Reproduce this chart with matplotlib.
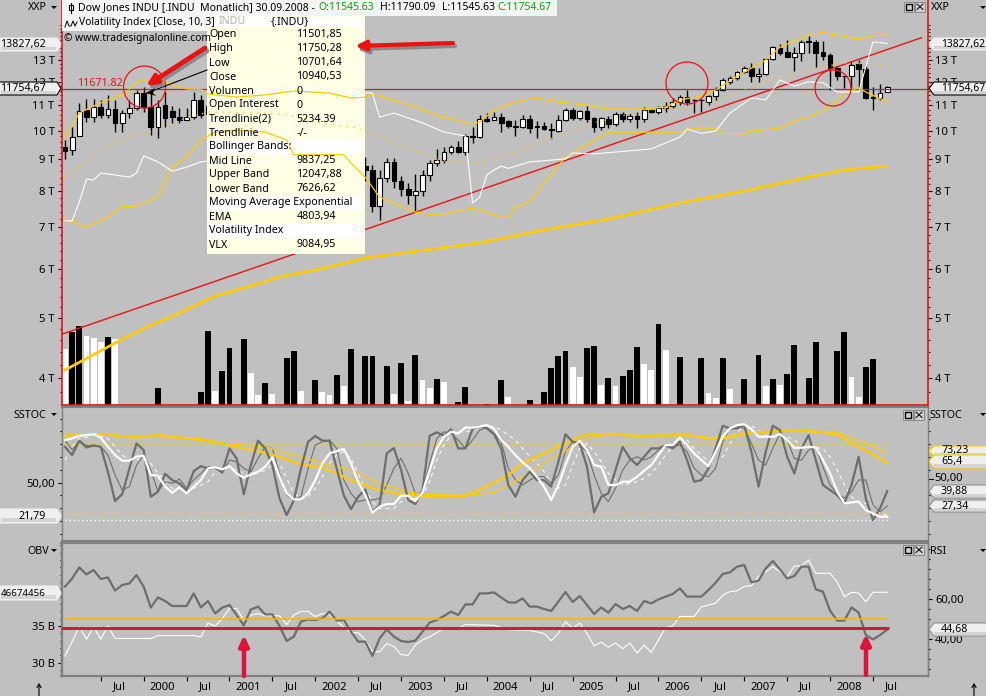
import matplotlib
matplotlib.use('Agg')
import numpy as np
import matplotlib.pyplot as plt
from matplotlib import patches
from matplotlib.ticker import FixedLocator, NullFormatter, FixedFormatter

plt.rcParams['font.family'] = ['Noto Sans', 'DejaVu Sans']

################ DATA ####################

# monthly candles, index 0 = Feb 1999 (20-42 sit behind the tooltip, so rough)
opens = [9400, 9313, 9810, 10800, 10520, 10920, 10600, 10840, 10300, 10680, 10880, 11501.85, 10940, 10128, 11000, 10760,
         10520, 10400, 10520, 11209,
         10650, 10971, 10414, 10787, 10887, 10495, 9879, 10735, 10912, 10502, 10523, 9950, 8847, 9075, 9852, 10021,
         9920, 10106, 10403, 9946, 9925, 9243, 8780,
         8648, 7570, 8395, 8900, 8300, 8060, 7880, 7990, 8480, 8860, 8980, 9250, 9420, 9250, 9810, 9780,
         10440, 10400, 10520, 10370, 10170, 10140, 10440, 10170, 10170, 10060, 9990, 10408, 10800, 10480, 10760,
         10480, 10140, 10440, 10250, 10640, 10440, 10560, 10440, 10800, 10720, 10880, 10960, 11130, 11340, 11220,
         11190, 11130, 11380, 11632, 12000, 12150, 12430, 12620, 12240, 12340, 13050, 13580, 13390, 13150, 13330,
         13950, 13900, 13390, 13240, 12620, 12240, 12240, 12800, 12580, 11340, 11300, 11545.63]
highs = [9665, 10140, 11080, 11250, 11250, 11209, 11420, 11209, 10800, 11209, 11632, 11750.28, 11500, 11209, 11550, 10960,
         10880, 10880, 11550, 11420,
         11050, 11000, 10900, 11000, 10950, 10600, 10850, 11350, 11000, 10700, 10600, 10000, 9400, 9900, 10200, 10250,
         10200, 10670, 10400, 10200, 9950, 9300, 9080,
         8810, 8648, 9030, 9030, 8460, 8240, 8520, 8650, 8980, 9350, 9420, 9490, 9630, 9880, 10140, 10600,
         10680, 10720, 10680, 10400, 10400, 10600, 10600, 10370, 10330, 10300, 10600, 10880, 10880, 10800, 10960,
         10520, 10520, 10560, 10720, 10720, 10680, 10720, 10920, 10880, 10960, 11130, 11290, 11420, 11632, 11250,
         11250, 11420, 11750, 12150, 12240, 12500, 12700, 12860, 12620, 13080, 13680, 13800, 14000, 13630, 14000,
         14200, 14000, 13950, 13340, 12700, 12270, 12950, 13000, 12700, 11750, 11900, 11790.09]
lows = [9010, 9150, 9810, 10330, 10330, 10480, 10480, 9950, 9950, 10480, 10800, 10701.64, 9850, 9740, 10130, 10300,
        10300, 10400, 10440, 10480,
        9975, 10350, 10300, 10430, 10350, 9390, 9700, 10700, 10400, 10200, 9800, 8235, 8800, 9050, 9750, 9600,
        9600, 10050, 9800, 9800, 9100, 7530, 8300,
        7400, 7185, 8270, 8090, 7850, 7620, 7400, 7850, 8300, 8770, 8870, 9180, 9210, 9150, 9560, 9740,
        10330, 10410, 9950, 10100, 9810, 10100, 9910, 9740, 10030, 9700, 9950, 10370, 10410, 10410, 10330,
        9950, 10030, 10100, 10170, 10330, 10330, 10100, 10330, 10680, 10640, 10720, 10880, 11000, 11000, 10680,
        10720, 11000, 11209, 11600, 11880, 12071, 12400, 12000, 11990, 12300, 13000, 13240, 13180, 12480, 12950,
        13340, 12660, 13000, 11632, 12071, 11720, 11720, 11680, 11250, 10800, 11209, 11545]
closes = [9280, 9790, 10760, 10520, 10920, 10600, 10840, 10300, 10680, 10880, 11500, 10940.53, 10128, 10920, 10480, 10520,
          10408, 10520, 11209, 10600,
          10971, 10414, 10787, 10887, 10495, 9879, 10735, 10912, 10502, 10523, 9950, 8847, 9075, 9852, 10021, 9920,
          10106, 10403, 9946, 9925, 9243, 8737, 8650,
          7570, 8395, 8900, 8300, 8060, 7880, 7990, 8480, 8860, 8970, 9250, 9420, 9250, 9810, 9780, 10450,
          10370, 10520, 10300, 10180, 10140, 10440, 10100, 10140, 10060, 10030, 10408, 10800, 10480, 10760, 10440,
          10140, 10480, 10250, 10640, 10440, 10560, 10440, 10800, 10720, 10880, 10960, 11130, 11340, 11130, 11190,
          11220, 11380, 11632, 12071, 12150, 12430, 12620, 12240, 12340, 13050, 13630, 13330, 13150, 13330, 13900,
          13900, 13340, 13190, 12620, 12240, 12260, 12770, 12580, 11300, 11300, 11500, 11754.67]

# volume, in its own unscaled units
vol_x = [0, 1, 2, 3, 4, 5, 6, 7, 13, 19, 20, 21, 22, 23, 25, 26, 27, 28, 29, 31, 32, 33, 35, 36, 37, 38, 39, 40, 42, 43,
         45, 46, 47, 48, 49, 50, 51, 52, 53, 55, 56, 59, 61, 62, 65, 67, 68, 69, 70, 71, 72, 73, 74, 75, 76, 77, 78, 79,
         80, 81, 82, 83, 84, 86, 89, 90, 91, 92, 93, 94, 95, 96, 97, 98, 99, 100, 101, 102, 104, 105, 108, 109, 110, 111,
         112, 113]
vol_vals = [56, 73, 79, 69, 67, 63, 68, 66, 17, 13, 74, 14, 34, 57, 66, 32, 10, 22, 11, 47, 54, 14, 25, 13, 10, 30, 19, 56,
            49, 49, 39, 11, 42, 4, 50, 25, 17, 26, 23, 3, 18, 1, 25, 8, 5, 13, 37, 49, 54, 38, 28, 57, 59, 20, 27, 19, 29,
            35, 58, 41, 35, 81, 55, 48, 47, 12, 7, 47, 16, 1, 26, 1, 50, 19, 26, 20, 31, 60, 27, 63, 54, 73, 28, 8, 38, 46]
vol_white = [0, 3, 4, 5, 7, 21, 26, 27, 29, 33, 36, 37, 39, 46, 48, 50, 51, 53, 62, 71, 72, 75, 77, 81, 82, 84, 90, 91, 93,
             94, 96, 98, 100, 110, 111]

# price overlays, each with its own months
upper_x = [0, 2, 4, 6, 8, 9, 10, 11, 13, 15, 17, 19, 20, 24, 28, 32, 37, 40, 42, 43, 45, 49, 52, 57, 58, 60, 63, 66, 69,
           73, 76, 81, 84, 86, 89, 91, 94, 98, 100, 104, 106, 108, 111, 113, 115]
upper_band = [9740, 10680, 10960, 11209, 11420, 11675, 11950, 12071, 12071, 11850, 11675, 11660, 11460, 11330, 11420,
              11590, 11500, 11290, 11330, 11460, 11290, 10920, 10600, 10250, 10330, 10800, 11130, 11290, 11130, 11000,
              10840, 10840, 10920, 11209, 11380, 11632, 12240, 13000, 13630, 14260, 14400, 14260, 14050, 14220, 14260]
lower_x = [0, 3, 6, 8, 10, 13, 15, 17, 19, 21, 24, 28, 31, 32, 39, 40, 42, 44, 49, 52, 57, 58, 61, 62, 63, 65, 67, 70, 73,
           76, 86, 88, 91, 92, 95, 96, 100, 102, 104, 107, 109, 111, 112, 115]
lower_band = [7210, 7000, 7260, 7540, 7570, 7820, 8740, 9070, 9665, 9950, 10030, 9950, 9665, 9150, 9150, 8870, 8420, 7820,
              7400, 7310, 7510, 7457, 7260, 7260, 7540, 7680, 8240, 9070, 9490, 9950, 9950, 10100, 10100, 9910, 9880,
              9990, 10100, 10370, 10520, 10920, 11500, 11720, 11545, 11130]
mid_x = [0, 5, 9, 13, 16, 20, 28, 31, 35, 41, 42, 48, 52, 58, 63, 70, 74, 81, 88, 91, 98, 105, 109, 115]
mid_band = [8420, 9313, 9770, 10030, 10408, 10720, 10680, 10600, 10330, 10100, 9950, 9420, 8974, 8870, 9240, 9910, 10300,
            10800, 10920, 11209, 11990, 12620, 12860, 12760]
vlx_x = [0, 1, 2, 3, 4, 5, 7, 9, 10, 11, 13, 15, 17, 19, 21, 31, 32, 34, 43, 44, 46, 50, 53, 56, 57, 58, 59, 60, 61, 62,
         65, 70, 71, 74, 82, 86, 87, 89, 91, 93, 96, 98, 100, 102, 104, 106, 108, 111, 113, 115]
vlx = [7160, 7160, 7680, 8360, 8333, 8550, 8490, 8420, 8550, 9110, 8910, 8610, 8740, 8910, 8974, 8870, 11850, 11632,
       11500, 10520, 10680, 10300, 9950, 9810, 7650, 7820, 8490, 8648, 8770, 8700, 8910, 9010, 9210, 9180, 9350, 9770,
       10060, 9910, 9990, 10680, 11290, 11209, 12071, 11800, 11990, 11950, 11545, 11545, 13900, 13827.62]
ema_x = [0, 7, 11, 16, 21, 26, 30, 35, 41, 42, 58, 67, 76, 86, 95, 104, 109, 115]
ema = [4120, 4553, 4803.94, 5090, 5420, 5625, 5818, 5970, 6195, 6240, 6600, 6924, 7210, 7650, 8000, 8420, 8648, 8770]
trend_x = [-0.56, 119.8]
trend = [4700, 14120]
resistance = 11671.82

# slow stochastic panel
sstoc_fast = [78, 71.6, 82.8, 77.6, 79, 78, 58.6, 35.7, 41, 61, 80.7, 75.5, 39, 43, 57, 52, 49.5, 44, 59, 63, 61, 61.7, 58.6,
              76.8, 69, 41, 63.8, 82.8, 76.8, 63.8, 37.8, 24.7, 36, 61, 82, 86.5, 82.8, 82.8, 61, 40, 29.4, 39, 44.8, 27.3,
              32.6, 73, 77, 60, 36.5, 33.3, 44, 86.7, 89.3, 86.7, 91.7, 76.8, 76.8, 92, 93.8, 92.4, 88, 76.8, 48.2, 39, 52,
              58.6, 52, 52, 47, 66.4, 87.8, 82, 80.7, 62.5, 26.8, 39, 41.7, 60, 78, 69, 63.8, 70.3, 76.8, 76.8, 79.4, 76.8,
              82, 67.7, 50.8, 52, 61.2, 76.8, 94.5, 92.4, 92.4, 95, 74.2, 47, 74.2, 94.5, 91, 70.3, 57.3, 76.8, 87.2, 67.7,
              48.2, 44.3, 40.4, 33.9, 48.2, 70.3, 37.8, 20.8, 30, 43.5]
sstoc_slow = [83.3, 75.5, 82.6, 78.9, 79.4, 78.1, 71.6, 56, 44.3, 46.9, 63.8, 71.6, 59.9, 43, 50.8, 49.5, 52.9, 45.6, 52.1,
              57.3, 62.5, 61.2, 57.3, 67.7, 66.4, 61.2, 58.6, 69, 78.1, 76.8, 57.3, 40.4, 36.5, 39.1, 61.2, 79.4, 82, 83.3,
              76.8, 52.1, 41.7, 35.2, 36.5, 36.5, 37.8, 48.2, 61.2, 69, 57.3, 41.7, 41.7, 65.1, 84.6, 89.8, 88.5, 83.3, 76.8,
              83.3, 91.1, 93, 88.5, 82, 61.2, 52.1, 48.2, 52.1, 54.7, 54.7, 49.5, 56, 74.2, 82, 79.4, 74.2, 56, 41.7, 35.2,
              45.6, 59.9, 67.7, 70.3, 67.7, 70.3, 75.5, 78.1, 78.1, 79.4, 74.2, 61.2, 56, 54.7, 61.2, 82, 92.4, 93.8, 92.4,
              80.7, 67.7, 63.8, 76.8, 88.5, 83.3, 69, 67.7, 75.5, 78.1, 62.5, 48.2, 41.7, 37.8, 43, 52.1, 52.1, 32.6, 27.3,
              31.8]
sstoc_smooth = [83.3, 84.6, 86.7, 87.2, 88, 85.2, 78, 71.6, 67.2, 67.2, 70.3, 71, 56, 55.5, 46.9, 42.2, 46.4, 41.7, 46.9, 52,
                61.2, 62, 60.4, 63, 57.3, 53.9, 56.5, 58.6, 62.5, 69.8, 54.7, 41.7, 37, 37, 41.7, 52, 65.1, 72.9, 74.7, 76.3,
                65.1, 50.8, 40.4, 26.6, 31.3, 33.3, 33.3, 39.8, 39.8, 35.7, 42.4, 59.9, 76.8, 85.9, 89.8, 88.5, 93, 93, 93.8,
                95, 92.4, 83.3, 78, 71.6, 65.9, 61.2, 54.7, 46.9, 36.5, 48.2, 63.8, 78, 82.6, 75.5, 63.8, 62.5, 48.2, 48.2,
                50.8, 50.8, 54.7, 59.4, 63.8, 71.6, 79.4, 79.4, 85.4, 79.4, 72.9, 67.7, 63, 74.2, 85.9, 92.4, 95, 95.6, 91.9,
                85.9, 85.9, 85.9, 88, 83.3, 77.3, 77.3, 78, 77.6, 67.7, 57.3, 43, 33.9, 34.6, 35.2, 28.6, 26, 23.4, 23.4]
sstoc_dashed = [67.7, 78.1, 84.6, 85.4, 87.2, 86.7, 84.6, 78.1, 71.6, 67.7, 67.7, 69, 65.1, 57.3, 52.1, 45.6, 45.6, 44.3, 45.6,
                48.2, 50.8, 58.6, 61.2, 61.7, 59.9, 57.3, 56, 57.3, 59.9, 63.8, 65.1, 53.4, 41.7, 37.8, 39.1, 45.6, 54.7, 65.1,
                71.6, 74.2, 69, 57.3, 45.6, 35.2, 29.9, 29.9, 29.9, 35.2, 36.5, 37.8, 39.1, 50.8, 67.7, 79.4, 87.2, 89.8, 89.8,
                91.1, 92.4, 93.2, 93.8, 91.1, 87.2, 83.3, 76.8, 70.3, 65.1, 58.6, 49.5, 45.6, 48.2, 63.8, 76.8, 80.7, 74.2, 66.4,
                57.3, 52.1, 48.2, 49.5, 50.8, 53.4, 57.3, 63.8, 71.6, 78.1, 79.4, 83.3, 76.8, 71.6, 66.4, 65.1, 70.3, 80.7, 89.8,
                93.8, 94.5, 91.1, 87.2, 85.9, 85.9, 85.9, 83.3, 79.4, 77.3, 77.3, 76.8, 70.3, 59.9, 48.2, 39.1, 34.6, 33.9, 32.6,
                26, 24.7]
sstoc_long_x = [0, 2, 6, 8, 10, 13, 16, 19, 22, 24, 27, 30, 33, 36, 38, 40, 44, 47, 50, 56, 58, 61, 62, 64, 68, 71, 73, 76, 80,
                87, 90, 93, 95, 100, 104, 108, 111, 113, 115]
sstoc_long = [86.7, 87.8, 87.8, 85.9, 85.4, 87.2, 85.2, 84.1, 80.7, 78, 74.7, 70.3, 64.3, 62, 57.3, 52, 44.3, 40.9, 39.8, 39.8,
              44.3, 52.9, 56, 65.1, 75.5, 83.3, 88, 87.8, 86.5, 87.2, 84.6, 85.9, 88.5, 90.4, 90.4, 87.8, 78, 72.1, 65.4]
sstoc_long2_x = [0, 6, 10, 16, 22, 24, 28, 33, 37, 40, 44, 47, 50, 56, 60, 62, 65, 68, 71, 73, 76, 80, 87, 92, 95, 100, 104, 108,
                 111, 115]
sstoc_long2 = [86.7, 87.8, 85.4, 85.2, 80.7, 79.9, 78, 70.3, 63.8, 59.9, 49.5, 44.3, 40.9, 39.8, 42.4, 48.2, 57.3, 69, 78, 84.6,
               87.8, 86.5, 87.2, 84.1, 87.8, 91.1, 90.6, 89.3, 83.3, 73.23]
sstoc_yellow_levels = [80, 26]
sstoc_white_level = 21

# RSI (right scale) and OBV in billions (left scale)
rsi = [66.2, 70.3, 75.8, 72.3, 74.5, 70, 70.8, 64.2, 67, 67.8, 72, 66.2, 55.7, 60.8, 59, 56.5, 56.5, 56.5, 62.8, 55.8, 59, 52.8,
       55.7, 57, 52, 46.8, 54.8, 56.2, 52.3, 52.3, 46.5, 39, 41.2, 48.7, 49.8, 49.5, 50.3, 53.7, 49.2, 49.5, 43.7, 38.7, 38.7,
       31.5, 40.3, 44.8, 41.2, 39, 38.5, 39.2, 43.7, 48.2, 49.5, 51.5, 53.7, 52, 57.3, 57.3, 62.8, 62.8, 63.3, 60.8, 58.3, 58.2,
       60.3, 56.2, 56.2, 55, 54, 58.7, 63.5, 58.5, 61.5, 57, 52.5, 55.8, 53.2, 57.5, 55, 56.5, 54, 59, 57.8, 59.8, 61.2, 62.5,
       65.3, 61.2, 61.2, 61.2, 64.5, 68.2, 72.5, 73.3, 76.2, 77, 68.3, 69.2, 75.3, 79, 74.8, 70.3, 71.5, 76.2, 76.2, 64.8, 63.7,
       54.2, 49.2, 49.2, 55.8, 53.2, 42, 39.8, 42, 44.68]
rsi_mid_level = 50
rsi_support_level = 45.3
obv_x = [0, 2, 3, 4, 5, 6, 7, 12, 13, 18, 19, 20, 21, 22, 23, 24, 25, 26, 27, 28, 30, 31, 32, 33, 34, 35, 36, 37, 39, 40, 41, 42,
         43, 44, 45, 46, 47, 48, 49, 50, 51, 52, 53, 55, 56, 60, 62, 65, 67, 68, 69, 70, 71, 72, 73, 74, 75, 76, 77, 78, 79, 80,
         81, 82, 84, 85, 86, 88, 89, 91, 92, 93, 94, 95, 96, 97, 99, 101, 102, 103, 104, 105, 107, 108, 109, 110, 111, 112, 113,
         115]
obv = [30.9, 34.9, 33.2, 34.9, 33.2, 35, 33.3, 33.3, 33.7, 33.7, 33.5, 35.4, 35, 36, 37.4, 37.4, 35.8, 36.5, 36.7, 36.4, 36.4,
       35.2, 36.5, 37, 37, 36.3, 36.7, 36.6, 34.8, 34.1, 34.1, 33.1, 31.5, 31.5, 32.6, 32.2, 31.1, 31, 32.4, 33.1, 33.5, 34.1,
       34.7, 34.7, 35.2, 35.1, 34.5, 34.4, 34, 33, 34, 35.6, 34.7, 35.4, 34, 32.3, 32.8, 32.1, 32.7, 31.9, 32.7, 31.3, 32.4, 31.4,
       34.8, 35, 36.3, 36.3, 37.6, 38.1, 39.2, 39.7, 39.8, 40.4, 40.5, 41.7, 43.1, 41.7, 43.2, 43.2, 44, 42.2, 42.2, 41, 39, 39.6,
       39.5, 38.3, 39.6, 39.6]

# bottom axis
xtick_pos = [5, 11, 17, 23, 29, 35, 41, 47, 53, 59, 65, 71, 77, 83, 89, 95, 101, 107, 113]
xtick_labels = ['Jul', '2000', 'Jul', '2001', 'Jul', '2002', 'Jul', '2003', 'Jul', '2004', 'Jul', '2005', 'Jul', '2006', 'Jul',
                '2007', 'Jul', '2008', 'Jul']
price_ticks = [4000, 5000, 6000, 7000, 8000, 9000, 10000, 11000, 12000, 13000]
price_tick_labels = ['4 T', '5 T', '6 T', '7 T', '8 T', '9 T', '10 T', '11 T', '12 T', '13 T']

# tooltip rows: label, value
tooltip_rows = [('Open', '11501,85'), ('High', '11750,28'), ('Low', '10701,64'), ('Close', '10940,53'),
                ('Volumen', '0'), ('Open Interest', '0'), ('Trendlinie(2)', '5234.39'), ('Trendlinie', '-/-'),
                ('Bollinger Bands:', ''), ('Mid Line', '9837,25'), ('Upper Band', '12047,88'), ('Lower Band', '7626,62'),
                ('Moving Average Exponential', ''), ('EMA', '4803,94'), ('Volatility Index', ''), ('VLX', '9084,95')]

################ SETUP ####################

W, H = 986, 696
BG = '#C0C0C0'
YEL = '#FFCC00'
GREY = '#808080'
DARK = '#6E6E6E'
RED = '#EE1111'
CRIMSON = '#DC143C'
FS = 7.7

fig = plt.figure(figsize=(W / 100, H / 100), dpi=100, facecolor=BG)

XL, XR = 61.5, 928


def panel(top, bottom):
    # axes placed by pixel rows of the screenshot
    ax = fig.add_axes([XL / W, 1 - bottom / H, (XR - XL) / W, (bottom - top) / H])
    ax.set_facecolor('none')
    ax.set_xlim((XL - 65) / 7.15, (XR - 65) / 7.15)
    ax.set_xticks([])
    return ax


def style_y(ax, major, labels, minor, labelleft=True, labelright=True):
    ax.yaxis.set_major_locator(FixedLocator(major))
    ax.yaxis.set_major_formatter(FixedFormatter(labels))
    ax.yaxis.set_minor_locator(FixedLocator(minor))
    ax.yaxis.set_minor_formatter(NullFormatter())
    ax.tick_params(axis='y', which='major', length=3, width=0.8, color='black', labelsize=FS + 0.4, pad=2,
                   left=labelleft, right=labelright, labelleft=labelleft, labelright=labelright)
    ax.tick_params(axis='y', which='minor', length=1.5, width=0.8, color='black', left=labelleft, right=labelright)


################ PRICE PANEL ####################

vol_ax = panel(0, 405)
vol_ax.set_ylim(0, 405)
vol_ax.set_yticks([])
vol_ax.set_zorder(1)
for s in vol_ax.spines.values():
    s.set_visible(False)
vol_cols = ['white' if x in vol_white else 'black' for x in vol_x]
vol_ax.bar(vol_x, vol_vals, width=0.82, color=vol_cols, linewidth=0)

ax = panel(0, 405)
ax.set_zorder(2)
ax.set_yscale('log')
ax.set_ylim(3619, 16237)
style_y(ax, price_ticks, price_tick_labels, [v for v in range(3800, 15000, 200) if v not in price_ticks])
for side in ['left', 'right', 'bottom']:
    ax.spines[side].set_color(RED)
    ax.spines[side].set_linewidth(1.2)
ax.spines['top'].set_visible(False)

bars = np.arange(len(closes))
o, h, l, c = [np.array(v, dtype=float) for v in (opens, highs, lows, closes)]
ax.vlines(bars, l, h, color='black', lw=1, zorder=2)
up = c >= o
ax.bar(bars[up], (c - o)[up], bottom=o[up], width=0.66, fc='white', ec='black', lw=0.8, zorder=2.5)
ax.bar(bars[~up], (o - c)[~up], bottom=c[~up], width=0.66, fc='black', ec='black', lw=0.8, zorder=2.5)

ax.plot(trend_x, trend, color=RED, lw=1, zorder=2.6)
ax.axhline(resistance, color=RED, lw=0.9, zorder=2.6)
ax.plot(ema_x, ema, color=YEL, lw=2, zorder=2.7)

# overlay in screen pixels, for everything drawn by hand on the screenshot
over = fig.add_axes([0, 0, 1, 1], facecolor='none')
over.set_xlim(0, W)
over.set_ylim(H, 0)
over.axis('off')
over.set_zorder(10)

# the tooltip hides the candles, but the bands stay on top of it
ax.add_patch(patches.Rectangle((207, 16), 158, 238, fc='#FFFFE6', ec='none', transform=over.transData, zorder=3, clip_on=False))
for y0, y1 in [(17, 27), (140, 153.5), (196, 209.5), (224, 237.5)]:
    ax.add_patch(patches.Rectangle((207, y0), 156, y1 - y0, fc='white', ec='none', transform=over.transData, zorder=3.1, clip_on=False))

ax.plot(upper_x, upper_band, color=YEL, lw=0.9, zorder=4)
ax.plot(lower_x, lower_band, color=YEL, lw=0.9, zorder=4)
ax.plot(mid_x, mid_band, color=YEL, lw=1, ls=(0, (1, 4)), zorder=4)
ax.plot(vlx_x, vlx, color='white', lw=0.8, zorder=4)

################ SSTOC PANEL ####################

ax2 = panel(407, 541)
ax2.set_ylim(50 - (541 - 482.7) / 1.28, 50 + (482.7 - 407) / 1.28)
style_y(ax2, [50], ['50,00'], [10, 20, 30, 40, 60, 70, 80, 90, 100])
ax2.tick_params(axis='y', which='major', right=False, labelright=False)
for side in ax2.spines:
    ax2.spines[side].set_color(GREY)
    ax2.spines[side].set_linewidth(1.5 if side in ('top', 'bottom') else 1)
ax2.hlines(sstoc_yellow_levels, 0, 115, color=YEL, lw=1, ls=(0, (1, 2)))
ax2.hlines(sstoc_white_level, 0, 115, color='white', lw=1, ls=(0, (1, 2)))
ax2.plot(bars, sstoc_dashed, color='white', lw=0.7, ls=(0, (4, 4)))
ax2.plot(bars, sstoc_slow, color=DARK, lw=0.8)
ax2.plot(sstoc_long2_x, sstoc_long2, color=YEL, lw=0.9)
ax2.plot(sstoc_long_x, sstoc_long, color=YEL, lw=1.7)
ax2.plot(bars, sstoc_fast, color=DARK, lw=1.6)
ax2.plot(bars, sstoc_smooth, color='white', lw=1.6)

################ OBV / RSI PANEL ####################

obv_ax = panel(543, 676)
obv_ax.set_ylim(30 - (676 - 662.7) / 7.33, 35 + (626 - 543) / 7.33)
style_y(obv_ax, [30, 35], ['30 B', '35 B'], [v for v in range(29, 47) if v not in (30, 35)], labelright=False)
obv_ax.plot(obv_x, obv, color='white', lw=0.8)

rsi_ax = obv_ax.twinx()
rsi_ax.set_facecolor('none')
rsi_ax.set_ylim(60 - (676 - 599) / 2, 60 + (599 - 543) / 2)
style_y(rsi_ax, [40, 60], ['40,00', '60,00'], [25, 30, 35, 45, 50, 55, 65, 70, 75, 80, 85], labelleft=False)
rsi_ax.hlines(rsi_mid_level, 0, 115, color='#FFB400', lw=1.1, zorder=4)
rsi_ax.hlines(rsi_support_level, (XL - 65) / 7.15, 115.2, color=CRIMSON, lw=2.2, zorder=5)
rsi_ax.plot(bars, rsi, color=DARK, lw=1.6, zorder=3)

for a in (obv_ax, rsi_ax):
    for side in a.spines:
        a.spines[side].set_color(GREY)
        a.spines[side].set_linewidth(1.5 if side in ('top', 'bottom') else 1)

# bottom ticks sit left of their labels
obv_ax.set_xticks(xtick_pos)
obv_ax.set_xticklabels([])
obv_ax.tick_params(axis='x', length=3.5, width=0.8, color='black', direction='out')
for x, lab in zip(xtick_pos, xtick_labels):
    over.text(65 + 7.15 * x + 18.7, 687, lab, ha='center', va='center', fontsize=FS + 0.4)

################ SCREEN FURNITURE ####################

def txt(x, y, s, color='black', ha='left', size=FS):
    over.text(x, y, s, color=color, ha=ha, va='center', fontsize=size)


def pill(y0, y1, s, side='left', edge='#909090', size=FS):
    ym = (y0 + y1) / 2
    if side == 'left':
        pts = [(-2, y0), (57, y0), (61, ym), (57, y1), (-2, y1)]
        strip_x = 1
        tx, ha = 46, 'right'
    else:
        pts = [(989, y0), (934, y0), (929, ym), (934, y1), (989, y1)]
        strip_x = 934
        tx, ha = 941, 'left'
    over.add_patch(patches.Polygon(pts, closed=True, fc='#EFEFEF', ec=edge, lw=0.8))
    over.add_patch(patches.Rectangle((strip_x, ym + 2), 55, (y1 - ym) - 2.6, fc='#D4D4D4', ec='none'))
    txt(tx, ym, s, ha=ha, size=size)


def panel_buttons(x, y):
    for bx, mark in [(x, 'sq'), (x + 11, 'x')]:
        over.add_patch(patches.Rectangle((bx, y), 10, 9.5, fc='#D0D0D0', ec=GREY, lw=0.6))
        if mark == 'sq':
            over.add_patch(patches.Rectangle((bx + 2, y + 2), 6, 5.5, fc='none', ec='black', lw=1))
        else:
            over.plot([bx + 2, bx + 8], [y + 2, y + 7.5], color='black', lw=0.7)
            over.plot([bx + 8, bx + 2], [y + 2, y + 7.5], color='black', lw=0.7)


def big_arrow(tail, tip, color, w=1.6, shadow=True):
    style = '-|>,head_width=0.28,head_length=0.6'
    if shadow:
        over.annotate('', xy=(tip[0] + 2, tip[1] + 3), xytext=(tail[0] + 2, tail[1] + 3),
                      arrowprops=dict(arrowstyle=style, color='#8A8A8A', lw=w, shrinkA=0, shrinkB=0))
    over.annotate('', xy=tip, xytext=tail,
                  arrowprops=dict(arrowstyle=style, color=color, lw=w, shrinkA=0, shrinkB=0))


# header strips
over.add_patch(patches.Rectangle((62, 0), 494.5, 15.5, fc='#F4F4F4', ec='none'))
over.add_patch(patches.Rectangle((62, 15.5), 145, 15.5, fc='#F4F4F4', ec='none'))
txt(78, 8, 'Dow Jones INDU [.INDU  Monatlich] 30.09.2008 -', size=7.5)
txt(318.5, 8, 'O:11545.63', color='#00B000', size=7.5)
txt(380, 8, 'H:11790.09', size=7.5)
txt(442, 8, 'L:11545.63', size=7.5)
txt(497.5, 8, 'C:11754.67', color='#00B000', size=7.5)
over.plot([71, 71], [3, 13], color='black', lw=0.8)
over.add_patch(patches.Rectangle((69, 5), 4, 5, fc='white', ec='black', lw=0.8))
over.plot([65, 67, 69, 71, 73, 75, 77], [27, 21, 26, 26, 21, 26, 22], color='black', lw=0.7)
txt(79, 23, 'Volatility Index [Close, 10, 3]', size=7.4)
txt(64, 39, '\u00a9 www.tradesignalonline.com', size=7.4)
over.text(219, 21, 'INDU', color='#B4B4B4', ha='left', va='center', fontsize=FS)
txt(271, 22, '{.INDU}')

# tooltip text
for i, (name, val) in enumerate(tooltip_rows):
    yr = 35 + 14 * i
    txt(209, yr, name)
    if val:
        txt(296.5, yr, val)

# right 50,00 of the SSTOC scale sits a little higher than the left one
over.plot([929, 933], [479, 479], color='black', lw=0.8)
txt(934.5, 479, '50,00', size=FS + 0.4)

# price side labels
pill(38, 51, '13827,62', edge='#F0F0F0')
pill(82, 95, '11754,67', edge='black')
pill(38, 50, '13827,62', side='right', edge='#F0F0F0', size=7.4)
pill(82, 95, '11754,67', side='right', edge='black', size=7.4)
pill(509, 523, '21,79', edge='#F0F0F0')
pill(586, 600, '46674456', edge='#F0F0F0', size=7)
pill(446, 456, '73,23', side='right', edge=YEL)
pill(455, 468, '65,4', side='right', edge=YEL)
pill(485, 498, '39,88', side='right')
pill(500, 512, '27,34', side='right')
pill(623, 636, '44,68', side='right')

txt(28, 8, 'XXP')
txt(931, 8, 'XXP')
txt(14, 415, 'SSTOC')
txt(930, 415, 'SSTOC')
txt(27, 551, 'OBV')
txt(930, 551, 'RSI')
for mx, my in [(54, 8), (983, 8), (54, 415), (983, 415), (54, 551), (983, 551)]:
    over.add_patch(patches.Polygon([(mx - 3, my - 2), (mx + 3, my - 2), (mx, my + 1)], fc='black', ec='none'))

panel_buttons(904, 2)
panel_buttons(903, 410)
panel_buttons(903, 545)

# hand drawn marks
for cx, cy, r in [(144.5, 87, 21), (687, 83, 21), (833, 88, 18)]:
    over.add_patch(patches.Circle((cx, cy), r, fc='none', ec=RED, lw=0.9))
txt(77, 83, '11671.82', color=RED)
over.plot([147, 207], [93, 70], color='black', lw=0.8)
over.add_patch(patches.Polygon([(146, 93), (155, 88), (153, 93), (156, 96)], fc='black', ec='none'))
big_arrow((205, 48), (146, 86), '#EE1111', w=3.4)
big_arrow((453, 43), (355, 46), '#EE1111', w=3)
big_arrow((244, 676), (244, 635), CRIMSON, w=3.2, shadow=False)
big_arrow((866, 675), (866, 634), CRIMSON, w=3.2, shadow=False)

for x in (39, 974):
    over.annotate('', xy=(x, 683), xytext=(x, 696),
                  arrowprops=dict(arrowstyle='->,head_width=0.15,head_length=0.25', color='black', lw=0.8, shrinkA=0, shrinkB=0))

fig.savefig('out.png', dpi=100, facecolor=BG)
